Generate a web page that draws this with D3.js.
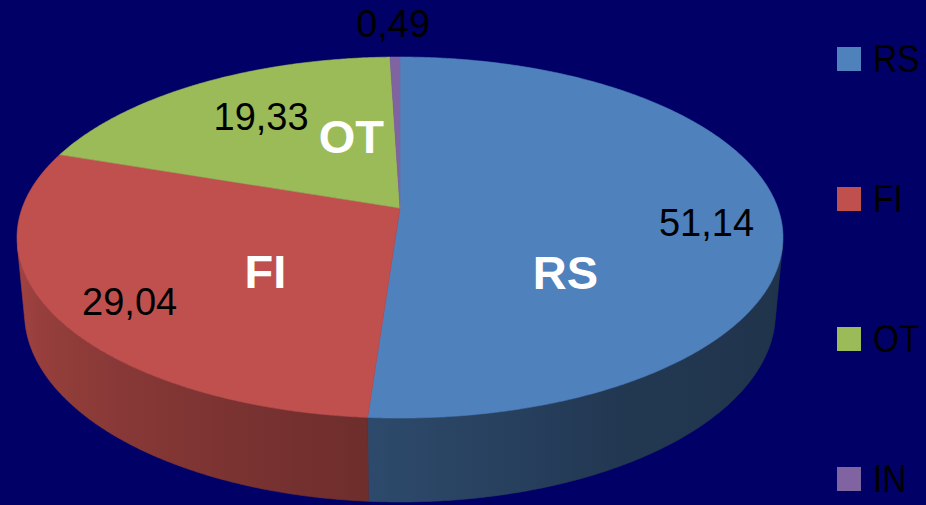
<!DOCTYPE html>
<html><head><meta charset="utf-8">
<script src="https://cdn.jsdelivr.net/npm/d3@7"></script>
<style>html,body{margin:0;padding:0;background:#000066;overflow:hidden}</style>
</head><body><svg id="chart" width="926" height="505"></svg>
<script>
// ---- data ----
const categories = ["RS", "FI", "OT", "IN"];
const values = [51.14, 29.04, 19.33, 0.49];
const valueLabels = ["51,14", "29,04", "19,33", "0,49"];
const colors = ["#4f81bd", "#c0504d", "#9bbb59", "#8064a2"];

// ---- layout ----
const W = 926, H = 505;
const svg = d3.select("#chart");
svg.append("rect").attr("width", W).attr("height", H).attr("fill", "#000066");

// perspective camera for the 3D pie
const cx = 400, cy = 208;
const phi = 27.71 * Math.PI / 180;
const Ld = 5.41, Fc = 2044, thick = 0.227;
const Hc = Ld * Math.sin(phi), Dc = Ld * Math.cos(phi);
function proj(theta, r, y) {
  const X = r * Math.sin(theta), Z = -r * Math.cos(theta), Y = y;
  const den = Ld * Ld - Y * Hc - Z * Dc;
  return [cx + Fc * Ld * X / den, cy + Fc * (Z * Hc - Y * Dc) / den];
}
function arcPts(a0, a1, r, y) {
  const n = Math.max(2, Math.ceil(Math.abs(a1 - a0) / (0.4 * Math.PI / 180)));
  return d3.range(n + 1).map(i => proj(a0 + (a1 - a0) * i / n, r, y));
}
const line = d3.line();
const pie = d3.pie().sort(null).value(d => d)(values);

const defs = svg.append("defs");
const deg = Math.PI / 180;
const shade = d3.scaleLinear()
  .domain([102 * deg, 150 * deg, 184 * deg, 258 * deg])
  .range([0.39, 0.43, 0.57, 0.85]).clamp(true);

// side walls (front-facing part only)
const tMin = Math.acos(-1 / Dc), tMax = 2 * Math.PI - tMin;
const walls = svg.append("g");
pie.forEach((p, i) => {
  const s = Math.max(p.startAngle, tMin), e = Math.min(p.endAngle, tMax);
  if (s >= e) return;
  const top = arcPts(s, e, 1, 0);
  const bot = arcPts(e, s, 1, -thick);
  const x1 = top[0][0], x2 = top[top.length - 1][0];
  const gid = "wall" + i;
  const g = defs.append("linearGradient").attr("id", gid)
    .attr("gradientUnits", "userSpaceOnUse")
    .attr("x1", x1).attr("x2", x2).attr("y1", 0).attr("y2", 0);
  const base = d3.rgb(colors[i]);
  d3.range(13).forEach(k => {
    const th = s + (e - s) * k / 12;
    const x = proj(th, 1, 0)[0];
    const f = shade(th);
    g.append("stop").attr("offset", Math.max(0, Math.min(1, (x - x1) / (x2 - x1))))
      .attr("stop-color", d3.rgb(base.r * f, base.g * f, base.b * f).formatHex());
  });
  walls.append("path").attr("d", line(top.concat(bot)) + "Z")
    .attr("fill", `url(#${gid})`).attr("stroke", `url(#${gid})`).attr("stroke-width", 0.6);
});

// top faces
const topG = svg.append("g");
pie.forEach((p, i) => {
  const pts = [proj(0, 0, 0)].concat(arcPts(p.startAngle, p.endAngle, 1, 0));
  topG.append("path").attr("d", line(pts) + "Z")
    .attr("fill", colors[i]).attr("stroke", colors[i]).attr("stroke-width", 0.6);
});

// labels: anchor = projected point at mid angle, plus nudge
const nameNudge = { RS: [-5, 61], FI: [13, 17], OT: [47, -12] };
const valueNudge = { RS: [3, 9], FI: [1, 9], OT: [24, 10], IN: [-1, -8] };
const valueRadius = { RS: 0.8, FI: 0.8, OT: 0.8, IN: 1.2 };
const lab = svg.append("g");
pie.forEach((p, i) => {
  const c = categories[i];
  const mid = (p.startAngle + p.endAngle) / 2;
  if (nameNudge[c]) {
    const a = proj(mid, 0.45, 0);
    lab.append("text").attr("x", a[0] + nameNudge[c][0]).attr("y", a[1] + nameNudge[c][1])
      .attr("dy", "0.36em").attr("text-anchor", "middle")
      .attr("font-family", "Liberation Sans, Arial, sans-serif").attr("font-weight", "bold")
      .attr("font-size", 47).attr("fill", "#ffffff").text(c);
  }
  const b = proj(mid, valueRadius[c], 0);
  lab.append("text").attr("x", b[0] + valueNudge[c][0]).attr("y", b[1] + valueNudge[c][1])
    .attr("dy", "0.36em").attr("text-anchor", "middle")
    .attr("font-family", "Liberation Sans, Arial, sans-serif")
    .attr("font-size", 38).attr("fill", "#000000").text(valueLabels[i]);
});

// legend
const ly = d3.scalePoint().domain(categories).range([59, 479]);
const leg = svg.append("g");
categories.forEach((c, i) => {
  leg.append("rect").attr("x", 837).attr("y", ly(c) - 12).attr("width", 24).attr("height", 24)
    .attr("fill", colors[i]);
  const t = leg.append("text").attr("x", 873).attr("y", ly(c) + 13)
    .attr("font-family", "Liberation Sans, Arial, sans-serif")
    .attr("font-size", 38).attr("fill", "#000000").text(c);
  const w = t.node().getComputedTextLength();
  t.attr("textLength", w * 0.88).attr("lengthAdjust", "spacingAndGlyphs");
});
</script>
</body></html>
